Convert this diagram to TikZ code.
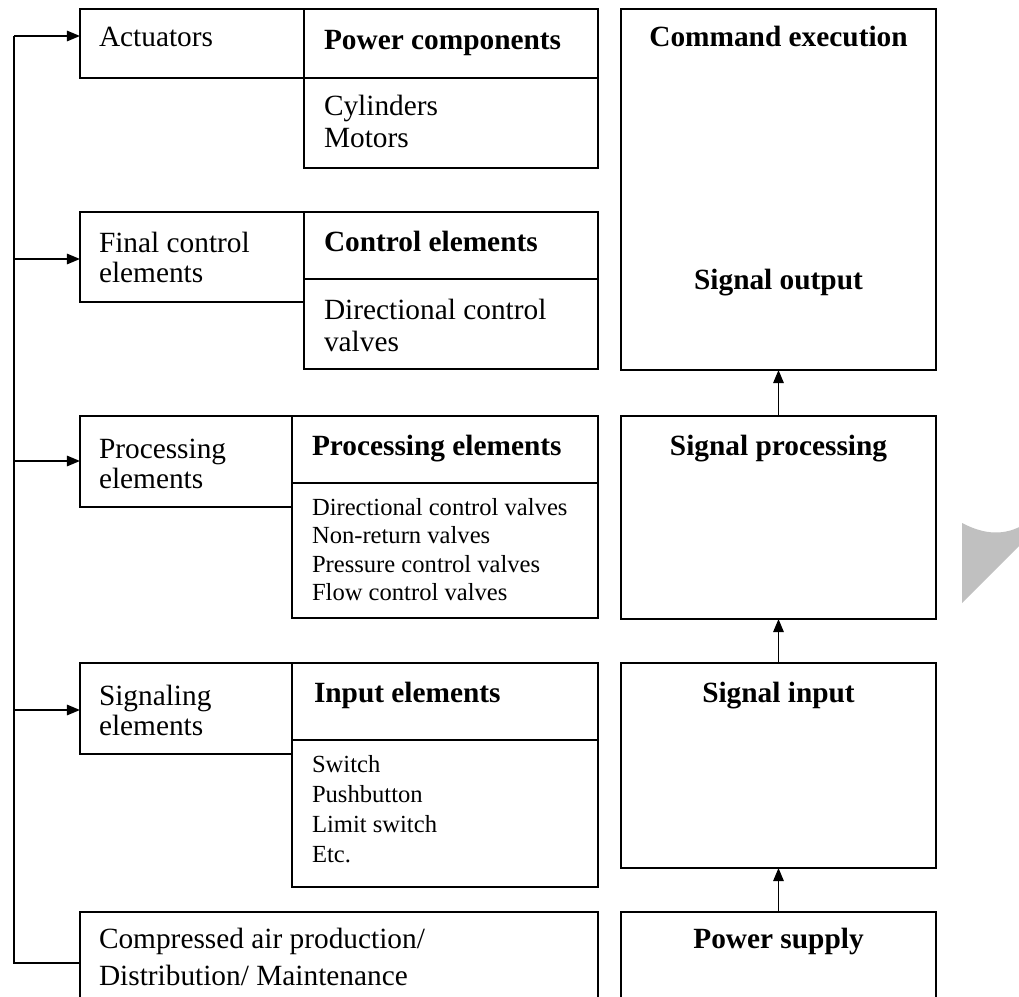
\documentclass[tikz,border=0pt]{standalone}
\usepackage{fontspec}
\setmainfont{Liberation Serif}
\usetikzlibrary{arrows.meta}
\definecolor{greyfill}{HTML}{C0C0C0}
\newcommand\myBig{\fontsize{16.7pt}{18.7pt}\selectfont}
\newcommand\mySmall{\fontsize{14pt}{16.2pt}\selectfont}
\newcommand\mybox[5]{\node[box, minimum width={(#4-#2)*0.02cm}, minimum height={(#5-#3)*0.02cm}] (#1) at (#2,#3) {};}
\begin{document}
\begin{tikzpicture}[x=0.02cm,y=-0.02cm,
  box/.style={draw=black, line width=0.9pt, inner sep=0pt, outer sep=0pt, anchor=north west},
  conn/.style={draw=black, line width=0.9pt},
  arr/.style={conn, -{Triangle[length=7.5pt,width=6pt]}},
  lbl/.style={inner sep=0pt, outer sep=0pt, anchor=base west, align=left, font=\myBig},
  lblb/.style={lbl, font=\myBig\bfseries},
  ctr/.style={inner sep=0pt, outer sep=0pt, anchor=base, font=\myBig\bfseries},
  lst/.style={inner sep=0pt, outer sep=0pt, anchor=base west, align=left, font=\mySmall}
]
\useasboundingbox (0,0) rectangle (1019,997);
\clip (0,0) rectangle (1019,997);
\fill[white] (0,0) rectangle (1019,997);

% left column boxes
\mybox{act}{80}{9}{304}{78}
\mybox{pch}{304}{9}{598}{78}
\mybox{pcl}{304}{78}{598}{168}
\mybox{fce}{80}{212}{304}{302}
\mybox{ceh}{304}{212}{598}{279}
\mybox{cel}{304}{279}{598}{369}
\mybox{pre}{80}{416}{292}{507}
\mybox{peh}{292}{416}{598}{483}
\mybox{pel}{292}{483}{598}{618}
\mybox{sig}{80}{663}{292}{754}
\mybox{ieh}{292}{663}{598}{740}
\mybox{iel}{292}{740}{598}{887}
\mybox{air}{80}{912}{598}{1040}
% right column boxes
\mybox{cmd}{621}{9}{936}{370}
\mybox{spr}{621}{416}{936}{619}
\mybox{sin}{621}{663}{936}{868}
\mybox{psu}{621}{912}{936}{1040}

% texts (multi-line nodes: base anchor = baseline of last line)
\node[lbl] (tact) at (99,47) {Actuators};
\node[lblb] (tpch) at (324,50) {Power components};
\node[lbl, font=\fontsize{16.7pt}{18.7pt}\selectfont] (tpcl) at (324,148) {Cylinders\\Motors};
\node[lbl, font=\fontsize{16.7pt}{17.6pt}\selectfont] (tfce) at (99,283) {Final control\\elements};
\node[lblb] (tceh) at (324,252) {Control elements};
\node[lbl, font=\fontsize{16.7pt}{18.7pt}\selectfont] (tcel) at (324,352) {Directional control\\valves};
\node[lbl, font=\fontsize{16.7pt}{17pt}\selectfont] (tpre) at (99,488) {Processing\\elements};
\node[lblb] (tpeh) at (312,455) {Processing elements};
\node[lst] (tpel) at (312,600.5) {Directional control valves\\Non-return valves\\Pressure control valves\\Flow control valves};
\node[lbl, font=\fontsize{16.7pt}{17pt}\selectfont] (tsig) at (99,735) {Signaling\\elements};
\node[lblb] (tieh) at (314,702) {Input elements};
\node[lst, font=\fontsize{14pt}{17pt}\selectfont] (tiel) at (312,862) {Switch\\Pushbutton\\Limit switch\\Etc.};
\node[lbl, font=\fontsize{16.7pt}{21pt}\selectfont] (tair) at (99,985) {Compressed air production/\\Distribution/ Maintenance};
\node[ctr] (tcmd) at (778.5,47) {Command execution};
\node[ctr] (tout) at (778.5,290) {Signal output};
\node[ctr] (tspr) at (778.5,455) {Signal processing};
\node[ctr] (tsin) at (778.5,702) {Signal input};
\node[ctr] (tpsu) at (778.5,948) {Power supply};

% feedback trunk
\coordinate (t0) at (14,36);
\coordinate (t1) at (14,259);
\coordinate (t2) at (14,461);
\coordinate (t3) at (14,710);
\coordinate (tb) at (14,963);
\draw[conn] (t0) -- (tb) -- (tb -| air.west);
\draw[arr] (t0) -- (t0 -| act.west);
\draw[arr] (t1) -- (t1 -| fce.west);
\draw[arr] (t2) -- (t2 -| pre.west);
\draw[arr] (t3) -- (t3 -| sig.west);

% signal flow
\draw[arr] (psu.north) -- (sin.south);
\draw[arr] (sin.north) -- (spr.south);
\draw[arr] (spr.north) -- (cmd.south);

% grey shape at the right edge
\fill[greyfill] (962,523) .. controls (985,535) and (1005,536) .. (1025,524) -- (1025,540) -- (962,603) -- cycle;
\end{tikzpicture}
\end{document}
